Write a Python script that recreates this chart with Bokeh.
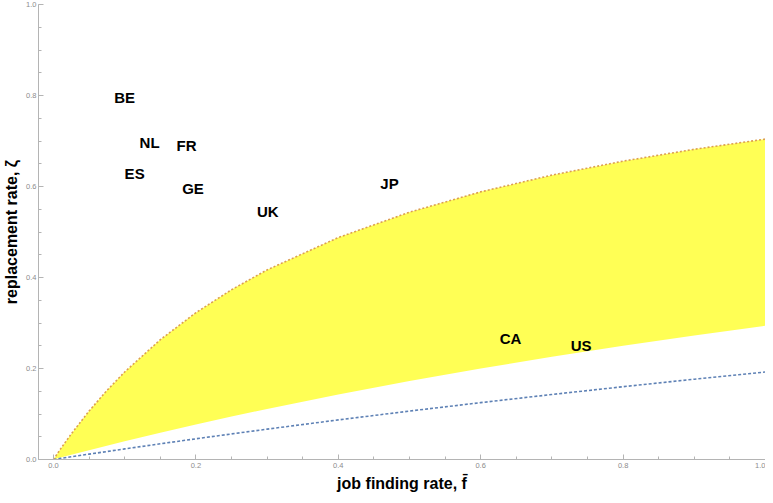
from bokeh.plotting import figure
from bokeh.models import Range1d, FixedTicker, PrintfTickFormatter, ColumnDataSource
from bokeh.core.properties import value
from bokeh.embed import file_html
from bokeh.resources import INLINE

# curve samples
f_grid = [0.0, 0.01, 0.025, 0.05, 0.075, 0.1, 0.15, 0.2, 0.25, 0.3, 0.4, 0.5, 0.6, 0.7, 0.8, 0.9, 1.0]
upper_zeta = [0.0, 0.0233, 0.0562, 0.1064, 0.1515, 0.1923, 0.2632, 0.3226, 0.3731, 0.4167,
              0.4878, 0.5435, 0.5882, 0.625, 0.6557, 0.6818, 0.7042]
lower_zeta = [0.0, 0.0042, 0.0103, 0.0204, 0.0303, 0.04, 0.0588, 0.0769, 0.0943, 0.1111,
              0.1429, 0.1724, 0.2, 0.2258, 0.25, 0.2727, 0.2941]
blue_zeta = [0.0, 0.0024, 0.0059, 0.0118, 0.0175, 0.0233, 0.0345, 0.0455, 0.0562, 0.0667,
             0.087, 0.1064, 0.125, 0.1429, 0.16, 0.1765, 0.1923]

countries = ["BE", "NL", "FR", "ES", "GE", "UK", "JP", "CA", "US"]
country_f = [0.100, 0.135, 0.187, 0.114, 0.196, 0.301, 0.472, 0.642, 0.741]
country_zeta = [0.796, 0.696, 0.691, 0.628, 0.596, 0.546, 0.607, 0.265, 0.250]

major_ticks = [0.0, 0.2, 0.4, 0.6, 0.8, 1.0]
minor_ticks = [i * 0.05 for i in range(21)]

FONT = "Liberation Sans"

p = figure(width=765, height=495, output_backend="svg", toolbar_location=None,
           x_range=Range1d(-0.021, 1.0), y_range=Range1d(0.0, 1.0),
           min_border_left=33, min_border_right=0, min_border_top=4, min_border_bottom=36)
p.outline_line_color = None
p.xgrid.visible = False
p.ygrid.visible = False
p.background_fill_color = "white"
p.border_fill_color = "white"

curves = ColumnDataSource(dict(f=f_grid, up=upper_zeta, lo=lower_zeta, bl=blue_zeta))
p.varea(x="f", y1="lo", y2="up", source=curves, fill_color="#ffff55")
p.line(x="f", y="bl", source=curves, line_color="#5e81b5", line_width=1.6, line_dash="3 2")
p.line(x="f", y="up", source=curves, line_color="#dc9f52", line_width=1.6, line_dash="2 2")

labels = ColumnDataSource(dict(x=country_f, y=country_zeta, t=countries))
p.text(x="x", y="y", text="t", source=labels, text_align="center", text_baseline="middle",
       text_font=value(FONT), text_font_style="bold", text_font_size="15px", text_color="black")

for ax in (p.xaxis[0], p.yaxis[0]):
    ax.ticker = FixedTicker(ticks=major_ticks, minor_ticks=minor_ticks)
    ax.formatter = PrintfTickFormatter(format="%.1f")
    ax.axis_line_color = "#b4b4b4"
    ax.major_tick_line_color = "#b4b4b4"
    ax.minor_tick_line_color = "#b4b4b4"
    ax.major_tick_in = 5
    ax.major_tick_out = 0
    ax.minor_tick_in = 3
    ax.minor_tick_out = 0
    ax.major_label_text_font = FONT
    ax.major_label_text_font_size = "7.5px"
    ax.major_label_text_color = "#8c8c8c"
    ax.axis_label_text_font = FONT
    ax.axis_label_text_font_style = "bold"
    ax.axis_label_text_font_size = "16px"
    ax.axis_label_text_color = "black"

p.xaxis.axis_label = "job finding rate, f\u0304"
p.yaxis.axis_label = "replacement rate, \u03b6"
p.xaxis.major_label_standoff = 3
p.xaxis.axis_label_standoff = 4
p.yaxis.major_label_standoff = 2
p.yaxis.axis_label_standoff = 3

open("out.html", "w").write(file_html(p, INLINE))
